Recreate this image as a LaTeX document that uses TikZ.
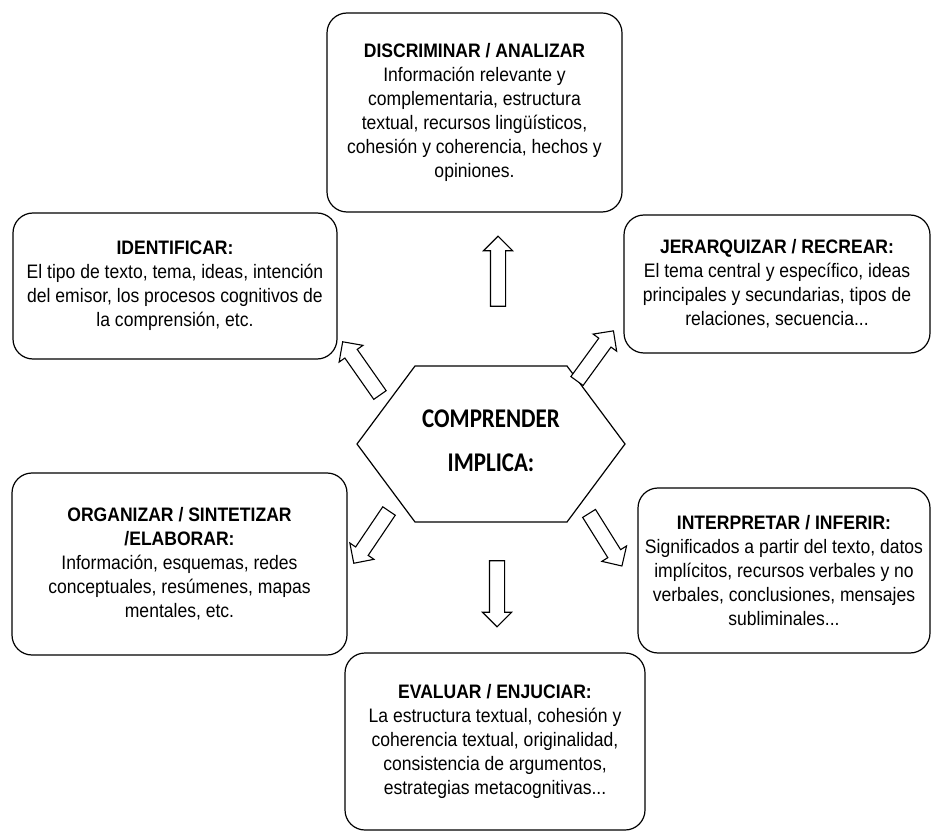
\documentclass[tikz,border=0pt]{standalone}
\usepackage{fontspec}
\setmainfont{Liberation Sans}[FakeStretch=0.9]
\newfontfamily\hexfont{Carlito}[FakeStretch=0.85]
\usetikzlibrary{positioning, shapes.arrows}
\tikzset{
caja/.style={draw, line width=1.2pt, rounded corners=20pt, align=center, inner sep=0pt, font=\fontsize{19.5}{24}\selectfont}, % the rounded boxes
flecha/.style={draw, line width=1.1pt, fill=white, single arrow, inner xsep=0pt, inner ysep=7pt, minimum width=28pt, single arrow head extend=7pt}, % hollow block arrows
centro/.style={align=center, inner sep=0pt, font=\hexfont\bfseries\fontsize{27}{44}\selectfont}, % text in the hexagon
}

\begin{document}
\begin{tikzpicture}[x=1pt, y=-1pt]
\useasboundingbox (0,0) rectangle (932,834);
% hexagon in the middle
\draw[line width=1.2pt] (357,444) -- (415,366) -- (567,366) -- (625,444) -- (567,522) -- (415,522) -- cycle;
\node[centro] (comprender) at (491,441) {COMPRENDER\\IMPLICA:};
% the six boxes
\node[caja, minimum width=295pt, minimum height=199pt] (discriminar) at (474.5,112.5) {\textbf{DISCRIMINAR / ANALIZAR}\\Información relevante y\\complementaria, estructura\\textual, recursos lingüísticos,\\cohesión y coherencia, hechos y\\opiniones.};
\node[caja, minimum width=324pt, minimum height=146pt] (identificar) at (175,286) {\textbf{IDENTIFICAR:}\\El tipo de texto, tema, ideas, intención\\del emisor, los procesos cognitivos de\\la comprensión, etc.};
\node[caja, minimum width=306pt, minimum height=138pt] (jerarquizar) at (777,284) {\textbf{JERARQUIZAR / RECREAR:}\\El tema central y específico, ideas\\principales y secundarias, tipos de\\relaciones, secuencia...};
\node[caja, minimum width=335pt, minimum height=182pt] (organizar) at (179.5,564) {\textbf{ORGANIZAR / SINTETIZAR}\\\textbf{/ELABORAR:}\\Información, esquemas, redes\\conceptuales, resúmenes, mapas\\mentales, etc.};
\node[caja, minimum width=292pt, minimum height=165pt] (interpretar) at (784,570.5) {\textbf{INTERPRETAR / INFERIR:}\\Significados a partir del texto, datos\\implícitos, recursos verbales y no\\verbales, conclusiones, mensajes\\subliminales...};
\node[caja, minimum width=300pt, minimum height=177pt] (evaluar) at (495,741.5) {\textbf{EVALUAR / ENJUCIAR:}\\La estructura textual, cohesión y\\coherencia textual, originalidad,\\consistencia de argumentos,\\estrategias metacognitivas...};
% block arrows out of the hexagon
\node[flecha, minimum height=70pt, rotate=90] (arriba) at (498,275) {};
\node[flecha, minimum height=65pt, rotate=125] (arribaizq) at (363.5,371.5) {};
\node[flecha, minimum height=62pt, rotate=54] (arribader) at (593,359) {};
\node[flecha, minimum height=63pt, rotate=236] (abajoizq) at (373.5,534) {};
\node[flecha, minimum height=62pt, rotate=302] (abajoder) at (603.5,536.5) {};
\node[flecha, minimum height=66pt, rotate=270] (abajo) at (497,590) {};
\end{tikzpicture}
\end{document}
